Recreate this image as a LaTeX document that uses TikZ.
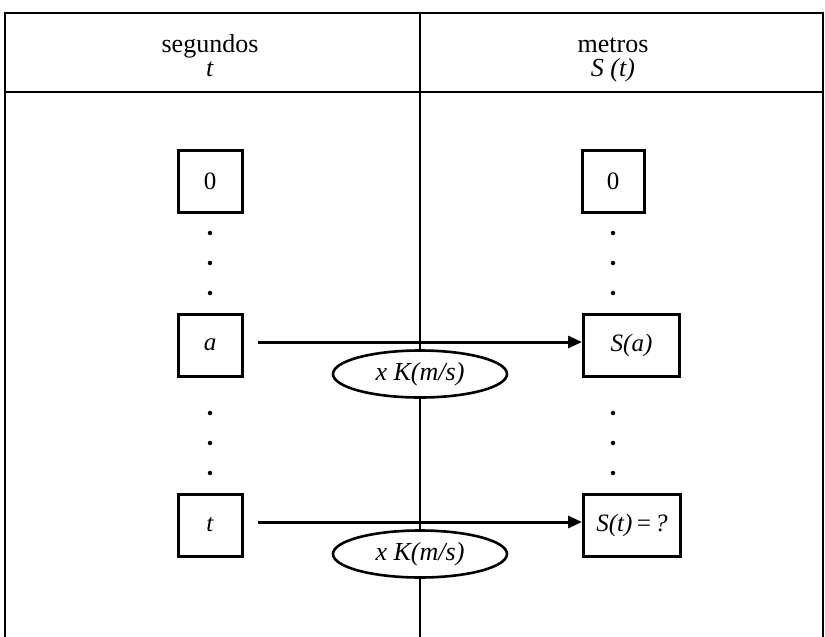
\documentclass[tikz,border=0pt]{standalone}
\usepackage{fontspec}
\setmainfont{Liberation Serif}
\usetikzlibrary{arrows.meta,shapes.geometric}
\begin{document}
\begin{tikzpicture}[x=1pt,y=-1pt,
  frame/.style={line width=2.8pt},
  divider/.style={line width=1.2pt},
  valbox/.style={draw,line width=3pt,minimum height=62pt,inner sep=2pt,font=\fontsize{25}{28}\selectfont},
  factor/.style={draw,ellipse,fill=white,line width=2.6pt,minimum width=174pt,minimum height=47pt,inner sep=0pt,font=\fontsize{26}{28}\selectfont\itshape},
  heading/.style={anchor=base,font=\fontsize{26}{28}\selectfont},
  dotmark/.style={circle,fill,inner sep=0pt,minimum size=4.5pt},
  mapsto/.style={line width=3pt,-{Triangle[length=14pt,width=12pt]}}
]
\useasboundingbox (0,0) rectangle (825,637);

% table frame and columns
\coordinate (tl) at (5,13);
\coordinate (tr) at (823,13);
\coordinate (bl) at (5,637);
\coordinate (br) at (823,637);
\coordinate (hl) at (5,92);
\coordinate (hr) at (823,92);
\coordinate (mt) at (420,13);
\coordinate (mb) at (420,637);
\draw[frame] (bl) -- (tl) -- (tr) -- (br);
\draw[frame] (hl) -- (hr);
\draw[divider] (mt) -- (mb);

% headings
\node[heading] (hleft) at (210,52) {segundos};
\node[heading] (hleftvar) at (210,76) {\textit{t}};
\node[heading] (hright) at (613,52) {metros};
\node[heading] (hrightvar) at (613,76) {\textit{S (t)}};

% left column: time values
\node[valbox,minimum width=64pt] (t0) at (210,181) {0};
\node[valbox,minimum width=64pt] (ta) at (210,345) {\textit{a}};
\node[valbox,minimum width=64pt] (tt) at (210,525) {\textit{t}};

% right column: distances
\node[valbox,minimum width=62pt] (s0) at (613,181) {0};
\node[valbox,minimum width=96pt,anchor=west] (sa) at (582,345) {\textit{S(a)}};
\node[valbox,minimum width=97pt,anchor=west] (st) at (582,525) {\textit{S(t)\hspace{3pt}=\hspace{3pt}?}};

% ellipsis dots
\foreach \yy [count=\i] in {233,263,293} {
  \node[dotmark] (ld\i) at (210,\yy) {};
  \node[dotmark] (rd\i) at (613,\yy) {};
}
\foreach \yy [count=\i] in {413,443,473} {
  \node[dotmark] (le\i) at (210,\yy) {};
  \node[dotmark] (re\i) at (613,\yy) {};
}

% mappings
\coordinate (astart) at (258,342);
\coordinate (tstart) at (258,522);
\draw[mapsto] (astart) -- (astart -| sa.west);
\draw[mapsto] (tstart) -- (tstart -| st.west);

% conversion factors
\node[factor] (ka) at (420,374) {x K(m/s)};
\node[factor] (kt) at (420,554) {x K(m/s)};
\end{tikzpicture}
\end{document}
